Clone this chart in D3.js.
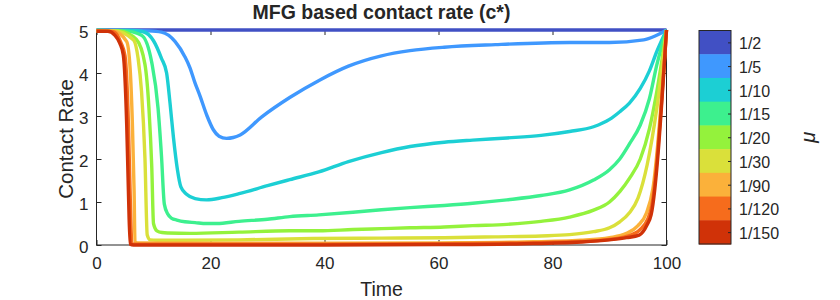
<!DOCTYPE html>
<html>
<head>
<meta charset="utf-8">
<script src="https://cdn.jsdelivr.net/npm/d3@7"></script>
<style>
  body { margin: 0; background: #fff; }
  text { font-family: "Liberation Sans", Arial, Helvetica, sans-serif; fill: #262626; }
</style>
</head>
<body>
<svg width="840" height="300"></svg>
<script>
// Series labels (mu values) and colours, top of colour bar first
const muLabels = ["1/2", "1/5", "1/10", "1/15", "1/20", "1/30", "1/90", "1/120", "1/150"];
const muColors = ["#4150C4", "#3F98FE", "#1CCFD4", "#3DF08E", "#94F23C", "#DAE03A", "#FBB13A", "#F66C1C", "#D03208"];

// Axis ticks
const xTicks = [0, 20, 40, 60, 80, 100];
const yTicks = [0, 1, 2, 3, 4, 5];

// Contact rate curves (time, value)
const t_2 = [0, 100];
const c_2 = [5, 5];

const t_5 = [0, 6, 9, 11.4, 13.8, 15.5, 16.4, 17.2, 18.2, 19.4, 20.5, 21.5, 22.8, 24, 25.2, 29, 33.9, 39.2, 44.2, 50, 55, 61, 70, 83, 90, 96, 98, 100];
const c_5 = [4.99, 4.99, 4.98, 4.95, 4.73, 4.38, 4.12, 3.8, 3.45, 3.0, 2.68, 2.53, 2.48, 2.5, 2.56, 2.98, 3.43, 3.84, 4.16, 4.4, 4.52, 4.6, 4.66, 4.71, 4.71, 4.77, 4.86, 5];

const t_10 = [0, 6, 8.2, 10, 11.4, 12.3, 12.9, 13.5, 14.2, 14.8, 15.8, 17.3, 19.3, 22, 25.2, 30, 33.9, 39, 44.2, 50, 55, 61, 66, 72, 78, 83, 87.2, 90, 91.8, 93.5, 95.4, 97, 98.3, 100];
const c_10 = [4.99, 4.99, 4.96, 4.75, 4.34, 4.0, 3.3, 2.5, 1.75, 1.35, 1.18, 1.08, 1.05, 1.1, 1.2, 1.38, 1.52, 1.7, 1.94, 2.15, 2.29, 2.39, 2.44, 2.49, 2.55, 2.64, 2.75, 2.92, 3.1, 3.3, 3.64, 4.05, 4.5, 5];

const t_15 = [0, 5, 7.9, 9.7, 10.8, 11.4, 11.9, 12.5, 13.2, 14.1, 15.5, 17.3, 19.3, 21.1, 25, 30, 33.9, 39, 45, 50, 55, 61, 66, 72, 78, 83, 87.2, 90, 91.8, 93.5, 95.4, 97, 98.3, 100];
const c_15 = [4.99, 4.98, 4.88, 4.24, 3.18, 2.07, 0.95, 0.72, 0.62, 0.58, 0.54, 0.52, 0.5, 0.5, 0.55, 0.6, 0.66, 0.7, 0.76, 0.82, 0.87, 0.92, 0.97, 1.05, 1.15, 1.28, 1.51, 1.75, 2.0, 2.35, 2.79, 3.4, 4.19, 5];

const t_20 = [0, 4, 7, 8.5, 9.2, 9.7, 10, 10.6, 11.5, 12.6, 16.4, 25, 33.9, 39, 45, 50, 55, 61, 66, 72, 78, 83, 87.2, 90, 91.8, 93.5, 95.4, 97, 98.3, 100];
const c_20 = [4.99, 4.98, 4.78, 4.2, 3.18, 1.8, 0.5, 0.33, 0.29, 0.28, 0.27, 0.3, 0.33, 0.33, 0.36, 0.38, 0.4, 0.42, 0.45, 0.48, 0.55, 0.65, 0.81, 1.0, 1.24, 1.55, 2.0, 2.7, 3.57, 5];

const t_30 = [0, 3, 6.5, 7.3, 7.9, 8.5, 8.9, 9.4, 10.5, 15, 25, 38, 50, 61, 70, 78, 83, 87.2, 90, 91.8, 93.5, 95, 96.6, 98.3, 100];
const c_30 = [4.98, 4.98, 4.77, 4.34, 3.57, 2.02, 0.23, 0.12, 0.11, 0.11, 0.12, 0.15, 0.16, 0.17, 0.19, 0.21, 0.24, 0.31, 0.4, 0.54, 0.75, 1.09, 1.86, 3.18, 5];

const t_90 = [0, 3, 5.3, 5.9, 6.3, 6.6, 6.75, 7.2, 20, 40, 60, 75, 85, 90, 93, 95, 96.5, 97.6, 100];
const c_90 = [4.98, 4.97, 4.73, 4.1, 2.8, 1.24, 0.07, 0.05, 0.04, 0.04, 0.05, 0.07, 0.11, 0.17, 0.27, 0.45, 0.75, 1.3, 5];

const t_120 = [0, 3, 4.3, 5, 5.6, 5.9, 6.2, 6.6, 20, 40, 60, 75, 85, 90, 93, 95.3, 96.7, 97.4, 100];
const c_120 = [4.98, 4.96, 4.7, 4.4, 2.8, 1.2, 0.04, 0.02, 0.02, 0.02, 0.03, 0.05, 0.08, 0.13, 0.2, 0.35, 0.6, 0.9, 5];

const t_150 = [0, 2, 3.2, 4.1, 4.7, 5.3, 5.6, 5.9, 6.5, 20, 40, 60, 75, 85, 90, 93, 95.2, 96.6, 97.3, 100];
const c_150 = [4.97, 4.97, 4.88, 4.69, 4.42, 2.79, 1.24, 0.02, 0.0, 0.0, 0.0, 0.01, 0.03, 0.07, 0.12, 0.17, 0.23, 0.47, 0.7, 5];

const seriesT = [t_2, t_5, t_10, t_15, t_20, t_30, t_90, t_120, t_150];
const seriesC = [c_2, c_5, c_10, c_15, c_20, c_30, c_90, c_120, c_150];

const svg = d3.select("svg");
const plot = { left: 96.5, right: 666.5, top: 30, bottom: 245 };
const ink = "#262626";

const x = d3.scaleLinear().domain([0, 100]).range([plot.left, plot.right]);
const y = d3.scaleLinear().domain([0, 5]).range([plot.bottom, plot.top]);

// axes with inward ticks (matlab style box)
const axisFont = "17px";
svg.append("g")
  .attr("transform", `translate(0,${plot.bottom})`)
  .call(d3.axisBottom(x).tickValues(xTicks).tickFormat(d3.format("d")).tickSizeInner(-5).tickSizeOuter(0).tickPadding(11))
  .call(g => g.select(".domain").remove())
  .call(g => g.selectAll("line").attr("stroke", ink))
  .call(g => g.selectAll("text").style("font-size", axisFont).attr("fill", ink).attr("dy", "0.78em"));

svg.append("g")
  .attr("transform", `translate(0,${plot.top})`)
  .call(d3.axisTop(x).tickValues(xTicks).tickSizeInner(-5).tickSizeOuter(0).tickFormat(""))
  .call(g => g.select(".domain").remove())
  .call(g => g.selectAll("line").attr("stroke", ink));

svg.append("g")
  .attr("transform", `translate(${plot.left},0)`)
  .call(d3.axisLeft(y).tickValues(yTicks).tickFormat(d3.format("d")).tickSizeInner(-5).tickSizeOuter(0).tickPadding(8))
  .call(g => g.select(".domain").remove())
  .call(g => g.selectAll("line").attr("stroke", ink))
  .call(g => g.selectAll("text").style("font-size", axisFont).attr("fill", ink).attr("dy", "0.45em"));

svg.append("g")
  .attr("transform", `translate(${plot.right},0)`)
  .call(d3.axisRight(y).tickValues(yTicks).tickSizeInner(-5).tickSizeOuter(0).tickFormat(""))
  .call(g => g.select(".domain").remove())
  .call(g => g.selectAll("line").attr("stroke", ink));

// box
svg.append("rect")
  .attr("x", plot.left).attr("y", plot.top)
  .attr("width", plot.right - plot.left).attr("height", plot.bottom - plot.top)
  .attr("fill", "none").attr("stroke", ink).attr("stroke-width", 1);

// curves
const line = d3.line()
  .x(d => x(d[0]))
  .y(d => y(d[1]))
  .curve(d3.curveMonotoneX);

seriesT.forEach((ts, i) => {
  const pts = ts.map((t, j) => [t, seriesC[i][j]]);
  svg.append("path")
    .datum(pts)
    .attr("d", line)
    .attr("fill", "none")
    .attr("stroke", muColors[i])
    .attr("stroke-width", 3.4)
    .attr("stroke-linejoin", "round");
});

// title and axis labels
svg.append("text")
  .attr("x", (plot.left + plot.right) / 2).attr("y", 18.5)
  .attr("text-anchor", "middle")
  .style("font-size", "19.5px").style("font-weight", "bold").attr("fill", "#111")
  .text("MFG based contact rate (c*)");

svg.append("text")
  .attr("x", (plot.left + plot.right) / 2).attr("y", 296)
  .attr("text-anchor", "middle")
  .style("font-size", "19.5px")
  .text("Time");

svg.append("text")
  .attr("transform", `translate(72.5,139) rotate(-90)`)
  .attr("text-anchor", "middle")
  .style("font-size", "20.5px")
  .text("Contact Rate");

// colour bar
const cb = { left: 699, right: 731, top: 30.5, bottom: 244 };
const band = d3.scaleBand().domain(muLabels).range([cb.top, cb.bottom]);

svg.append("g").selectAll("rect")
  .data(muLabels)
  .join("rect")
  .attr("x", cb.left)
  .attr("y", d => band(d))
  .attr("width", cb.right - cb.left)
  .attr("height", band.bandwidth() + 0.5)
  .attr("fill", (d, i) => muColors[i]);

svg.append("rect")
  .attr("x", cb.left).attr("y", cb.top)
  .attr("width", cb.right - cb.left).attr("height", cb.bottom - cb.top)
  .attr("fill", "none").attr("stroke", ink).attr("stroke-width", 1);

const cbScale = d3.scalePoint().domain(muLabels)
  .range([cb.top + band.bandwidth() / 2, cb.bottom - band.bandwidth() / 2]);

svg.append("g")
  .attr("transform", `translate(${cb.right},0)`)
  .call(d3.axisRight(cbScale).tickSizeInner(-3).tickSizeOuter(0).tickPadding(8))
  .call(g => g.select(".domain").remove())
  .call(g => g.selectAll("line").attr("stroke", ink))
  .call(g => g.selectAll("text").style("font-size", "16px").attr("fill", ink).attr("dy", "0.4em"));

svg.append("text")
  .attr("transform", `translate(815,${(cb.top + cb.bottom) / 2}) rotate(-90)`)
  .attr("text-anchor", "middle")
  .style("font-size", "20px").style("font-style", "italic")
  .text("μ");
</script>
</body>
</html>
